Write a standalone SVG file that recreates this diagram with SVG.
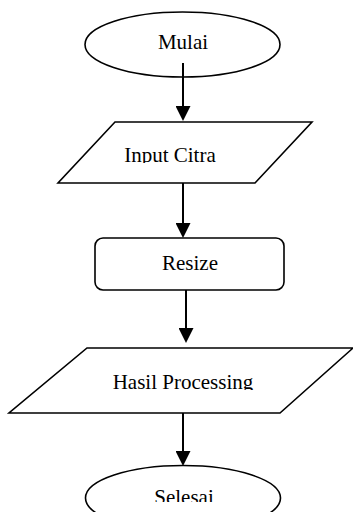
<svg xmlns="http://www.w3.org/2000/svg" width="353" height="512" viewBox="0 0 353 512">
  <style>
    .shape { fill: #ffffff; stroke: #000000; stroke-width: 1.6; }
    .label { font-family: "Liberation Serif", "Times New Roman", serif; font-size: 21px; fill: #000000; text-anchor: middle; }
    .flow { stroke: #000000; stroke-width: 2; fill: none; marker-end: url(#head); }
  </style>
  <defs>
    <marker id="head" viewBox="0 0 15 15" markerUnits="userSpaceOnUse" markerWidth="15" markerHeight="15" refX="5" refY="7.5" orient="auto">
      <path d="M0,0 L15,7.5 L0,15 Z" fill="#000000"/>
    </marker>
    <!-- labels sit low in their boxes and are cut at the baseline -->
    <clipPath id="clip-input"><rect x="0" y="0" width="353" height="163"/></clipPath>
    <clipPath id="clip-hasil"><rect x="0" y="0" width="353" height="390"/></clipPath>
    <clipPath id="clip-selesai"><rect x="0" y="0" width="353" height="502"/></clipPath>
  </defs>

  <rect width="353" height="512" fill="#ffffff"/>

  <g id="mulai">
    <ellipse class="shape" cx="182.5" cy="44.5" rx="97.5" ry="32.5"/>
    <text class="label" x="183" y="49">Mulai</text>
  </g>

  <g id="input-citra">
    <polygon class="shape" points="115,122 312,122 255,183 58,183"/>
    <text class="label" x="170" y="162" clip-path="url(#clip-input)">Input Citra</text>
  </g>

  <g id="resize">
    <rect class="shape" x="95" y="238" width="189" height="52" rx="8" ry="8"/>
    <text class="label" x="190" y="270">Resize</text>
  </g>

  <g id="hasil-processing">
    <polygon class="shape" points="87,348 353,348 280,413 9,413"/>
    <text class="label" x="183" y="389" clip-path="url(#clip-hasil)">Hasil Processing</text>
  </g>

  <g id="selesai">
    <ellipse class="shape" cx="183" cy="498" rx="97.5" ry="32.5"/>
    <text class="label" x="184" y="504" clip-path="url(#clip-selesai)">Selesai</text>
  </g>

  <g id="connectors">
    <path class="flow" d="M183,63 L183,111"/>
    <path class="flow" d="M183,183 L183,228"/>
    <path class="flow" d="M186,290 L186,333"/>
    <path class="flow" d="M183,413 L183,456"/>
  </g>
</svg>
